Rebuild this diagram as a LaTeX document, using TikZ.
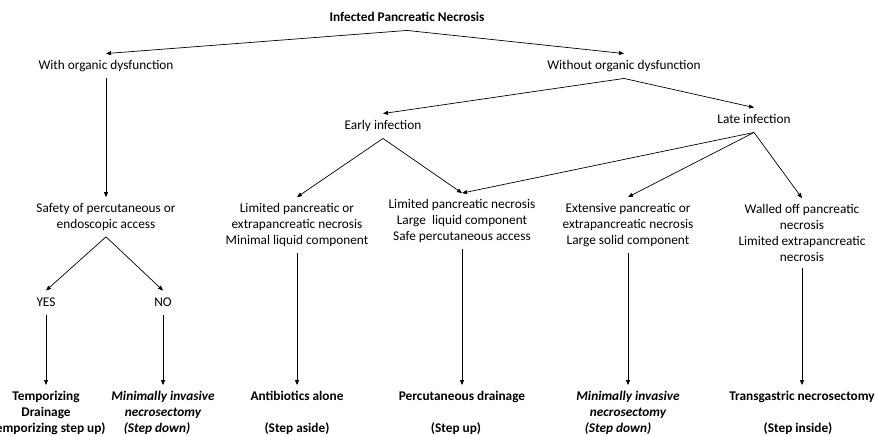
\documentclass[tikz,border=0pt]{standalone}
\usepackage{fontspec}
\setmainfont{Carlito}
\usetikzlibrary{arrows.meta}
\begin{document}
\begin{tikzpicture}[x=1pt,y=-1pt,
  lbl/.style={align=center, inner xsep=2pt, inner ysep=6pt, font=\fontsize{13.3}{16}\selectfont},
  one/.style={lbl, text height=9.5pt, text depth=3pt},
  res/.style={lbl, font=\fontsize{13.3}{16}\selectfont\bfseries},
  resi/.style={lbl, font=\fontsize{13.3}{16}\selectfont\bfseries\itshape},
  arr/.style={-{Triangle[length=5pt,width=4pt]}, line width=0.7pt}]
\useasboundingbox (0,0) rectangle (875,436);
\node[one, font=\fontsize{13.3}{16}\selectfont\bfseries] (title) at (407,18) {Infected Pancreatic Necrosis};
\node[one] (with) at (106,66) {With organic dysfunction};
\node[one] (without) at (624,66) {Without organic dysfunction};
\node[one] (early) at (383,126) {Early infection};
\node[one] (late) at (754,120) {Late infection};
\node[lbl] (safety) at (106,217) {Safety of percutaneous or\\endoscopic access};
\node[one] (yes) at (46,303) {YES};
\node[one] (no) at (163,303) {NO};
\node[lbl] (lim1) at (297,225) {Limited pancreatic or\\extrapancreatic necrosis\\Minimal liquid component};
\node[lbl] (lim2) at (462,221) {Limited pancreatic necrosis\\Large\ \ liquid component\\Safe percutaneous access};
\node[lbl] (ext) at (628,225) {Extensive pancreatic or\\extrapancreatic necrosis\\Large solid component};
\node[lbl] (wall) at (802,233) {Walled off pancreatic\\necrosis\\Limited extrapancreatic\\necrosis};
\node[res] (temp) at (46,413) {Temporizing\\Drainage\\(Temporizing step up)};
\node[resi] (mi1) at (163,413) {Minimally invasive\\necrosectomy\\\hspace*{-12pt}(Step down)};
\node[res] (abx) at (297,413) {Antibiotics alone\\\mbox{}\\(Step aside)};
\node[res] (perc) at (462,413) {Percutaneous drainage\\\mbox{}\\\hspace*{-12pt}(Step up)};
\node[resi] (mi2) at (628,413) {Minimally invasive\\necrosectomy\\\hspace*{-20pt}(Step down)};
\node[res] (trans) at (802,413) {Transgastric necrosectomy\\\mbox{}\\\hspace*{-8pt}(Step inside)};
\draw[arr] (title.south) -- (with.north);
\draw[arr] (title.south) -- (without.north);
\draw[arr] (with.south) -- (safety.north);
\draw[arr] (safety.south) -- (yes.north);
\draw[arr] (safety.south) -- (no.north);
\draw[arr] (yes.south) -- (temp.north);
\draw[arr] (no.south) -- (mi1.north);
\draw[arr] (without.south) -- (early.north);
\draw[arr] (without.south) -- (late.north);
\draw[arr] (early.south) -- (lim1.north);
\draw[arr] (early.south) -- (lim2.north);
\draw[arr] (late.south) -- (lim2.north);
\draw[arr] (late.south) -- (ext.north);
\draw[arr] (late.south) -- (wall.north);
\draw[arr] (lim1.south) -- (abx.north);
\draw[arr] (lim2.south) -- (perc.north);
\draw[arr] (ext.south) -- (mi2.north);
\draw[arr] (wall.south) -- (trans.north);
\end{tikzpicture}
\end{document}
